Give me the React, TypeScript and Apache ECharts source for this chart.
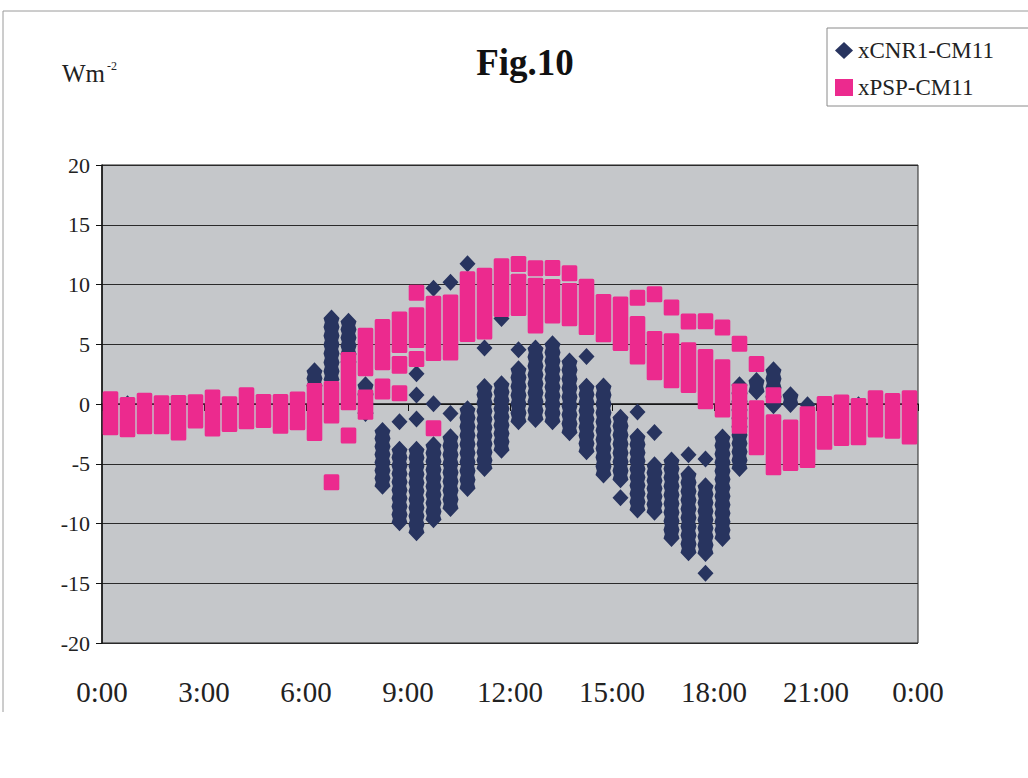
import React, { useEffect, useRef } from "react";
import * as echarts from "echarts";

// Half-hourly bins (hours of the day); each entry is [time, low value, high value] of a stack of markers
const CNR_NAME = "xCNR1-CM11";
const PSP_NAME = "xPSP-CM11";

const X_TICKS = [0, 3, 6, 9, 12, 15, 18, 21, 24];
const Y_TICKS = [-20, -15, -10, -5, 0, 5, 10, 15, 20];

const CNR_RANGES: [number, number, number][] = [
  [0.75, 0.02, 0.02],
  [6.25, 1.5, 2.78],
  [6.75, 2.0, 7.19],
  [7.25, 3.5, 6.92],
  [7.75, -0.79, 1.61],
  [8.25, -6.89, -2.22],
  [8.75, -1.49, -1.49],
  [8.75, -9.94, -3.79],
  [9.25, 2.54, 2.54],
  [9.25, 0.75, 0.75],
  [9.25, -1.26, -1.26],
  [9.25, -10.78, -3.79],
  [9.75, 9.68, 9.68],
  [9.75, 0.03, 0.03],
  [9.75, -9.69, -3.41],
  [10.25, 10.18, 10.18],
  [10.25, -0.8, -0.8],
  [10.25, -8.74, -2.74],
  [10.75, 11.73, 11.73],
  [10.75, -7.07, -0.4],
  [11.25, 4.69, 4.69],
  [11.25, -5.4, 1.46],
  [11.75, 7.15, 7.15],
  [11.75, -3.86, 1.69],
  [12.25, 4.55, 4.55],
  [12.25, -1.49, 2.95],
  [12.75, -1.3, 4.68],
  [13.25, -1.49, 5.04],
  [13.75, -2.41, 3.59],
  [14.25, 3.97, 3.97],
  [14.25, -4.0, 1.48],
  [14.75, -5.95, 1.5],
  [15.25, -6.34, -1.1],
  [15.25, -7.85, -7.85],
  [15.75, -0.67, -0.67],
  [15.75, -8.88, -2.7],
  [16.25, -2.39, -2.39],
  [16.25, -9.06, -5.09],
  [16.75, -11.26, -4.69],
  [17.25, -4.24, -4.24],
  [17.25, -12.45, -5.84],
  [17.75, -4.61, -4.61],
  [17.75, -12.51, -6.85],
  [17.75, -14.17, -14.17],
  [18.25, -11.26, -2.77],
  [18.75, -5.4, 1.61],
  [19.25, 1.02, 1.97],
  [19.75, -0.15, 2.86],
  [20.25, -0.04, 0.77],
  [20.75, -0.07, -0.07],
  [22.25, -0.07, -0.07],
];

const PSP_RANGES: [number, number, number][] = [
  [0.25, -1.95, 0.39],
  [0.75, -2.12, -0.08],
  [1.25, -1.87, 0.28],
  [1.75, -1.87, 0.06],
  [2.25, -2.39, 0.08],
  [2.75, -1.39, 0.14],
  [3.25, -2.06, 0.54],
  [3.75, -1.67, -0.03],
  [4.25, -1.45, 0.73],
  [4.75, -1.34, 0.17],
  [5.25, -1.81, 0.17],
  [5.75, -1.53, 0.37],
  [6.25, -2.43, 1.09],
  [6.75, -0.97, 1.26],
  [6.75, -6.55, -6.55],
  [7.25, 0.14, 3.68],
  [7.25, -2.64, -2.64],
  [7.75, 2.99, 5.71],
  [7.75, -0.64, 0.54],
  [8.25, 3.49, 6.44],
  [8.25, 1.04, 1.46],
  [8.75, 4.94, 7.07],
  [8.75, 3.21, 3.35],
  [8.75, 0.9, 0.9],
  [9.25, 9.3, 9.3],
  [9.25, 5.36, 7.42],
  [9.25, 3.77, 3.77],
  [9.75, 4.27, 8.38],
  [9.75, -2.03, -2.03],
  [10.25, 4.3, 8.49],
  [10.75, 5.86, 10.44],
  [11.25, 6.07, 10.74],
  [11.75, 7.95, 11.52],
  [12.25, 11.71, 11.71],
  [12.25, 8.03, 10.24],
  [12.75, 11.36, 11.36],
  [12.75, 6.56, 9.89],
  [13.25, 11.38, 11.38],
  [13.25, 7.4, 9.79],
  [13.75, 10.95, 10.95],
  [13.75, 7.17, 9.46],
  [14.25, 6.44, 9.82],
  [14.75, 5.83, 8.54],
  [15.25, 5.1, 8.32],
  [15.75, 8.89, 8.89],
  [15.75, 3.97, 6.69],
  [16.25, 9.18, 9.18],
  [16.25, 2.65, 5.44],
  [16.75, 8.08, 8.08],
  [16.75, 1.98, 5.25],
  [17.25, 6.9, 6.9],
  [17.25, 1.59, 4.49],
  [17.75, 6.92, 6.92],
  [17.75, 0.23, 3.93],
  [18.25, 6.4, 6.4],
  [18.25, -0.47, 3.07],
  [18.75, 5.05, 5.05],
  [18.75, -1.81, 1.04],
  [19.25, 3.34, 3.34],
  [19.25, -3.62, -0.36],
  [19.75, 0.73, 0.73],
  [19.75, -5.3, -1.53],
  [20.25, -4.94, -1.97],
  [20.75, -4.69, -0.86],
  [21.25, -3.15, 0.0],
  [21.75, -2.85, 0.12],
  [22.25, -2.79, -0.17],
  [22.75, -2.14, 0.48],
  [23.25, -2.23, 0.25],
  [23.75, -2.73, 0.48],
];

const NAVY = "#28345f";
const PINK = "#ec2a8e";
const SERIF = "'Liberation Serif', 'DejaVu Serif', serif";

export default function App() {
  const ref = useRef<HTMLDivElement>(null);

  useEffect(() => {
    if (!ref.current) return;
    const chart = echarts.init(ref.current, null, { renderer: "svg" });

    // a stack of overlapping diamond markers: pointed ends, slightly wavy sides
    const navyItem = (params: any, api: any) => {
      const t = api.value(0);
      const lo = api.value(1);
      const hi = api.value(2);
      const pT = api.coord([t, hi]);
      const pB = api.coord([t, lo]);
      const cx = pT[0];
      const hw = 8;
      const tip = 8.5;
      const yT = pT[1];
      const yB = pB[1];
      const right: number[][] = [];
      const left: number[][] = [];
      const span = yB - yT;
      const steps = Math.max(1, Math.round(span / 8.5));
      for (let i = 0; i <= steps; i++) {
        const y = yT + (span * i) / steps;
        right.push([cx + hw, y]);
        left.push([cx - hw, y]);
        if (i < steps) {
          const ym = yT + (span * (i + 0.5)) / steps;
          right.push([cx + hw - 1.3, ym]);
          left.push([cx - hw + 1.3, ym]);
        }
      }
      const points = [[cx, yT - tip], ...right, [cx, yB + tip], ...left.reverse()];
      return {
        type: "polygon",
        shape: { points },
        style: { fill: NAVY },
      };
    };

    const pinkItem = (params: any, api: any) => {
      const t = api.value(0);
      const lo = api.value(1);
      const hi = api.value(2);
      const pT = api.coord([t, hi]);
      const pB = api.coord([t, lo]);
      return {
        type: "rect",
        shape: {
          x: pT[0] - 7.8,
          y: pT[1] - 8,
          width: 15.6,
          height: pB[1] - pT[1] + 16,
          r: 1.5,
        },
        style: { fill: PINK },
      };
    };

    chart.setOption({
      animation: false,
      backgroundColor: "#ffffff",
      color: [NAVY, PINK],
      grid: {
        left: 102,
        right: 110,
        top: 165,
        bottom: 135,
        show: true,
        backgroundColor: "#c5c7ca",
        borderColor: "#222",
        borderWidth: 1,
      },
      legend: {
        left: 827,
        top: 28,
        orient: "vertical",
        padding: [11, 80, 7, 8],
        itemGap: 14,
        itemWidth: 18,
        itemHeight: 17,
        borderColor: "#8a8a8a",
        borderWidth: 1,
        backgroundColor: "#fff",
        selectedMode: false,
        textStyle: { fontFamily: SERIF, fontSize: 23, color: "#222", lineHeight: 22 },
        data: [
          { name: CNR_NAME, icon: "diamond" },
          { name: PSP_NAME, icon: "rect" },
        ],
      },
      xAxis: {
        type: "value",
        min: X_TICKS[0],
        max: X_TICKS[X_TICKS.length - 1],
        interval: 3,
        splitLine: { show: false },
        axisLine: { show: true, lineStyle: { color: "#111", width: 1.5 } },
        axisTick: { show: true, length: 7, lineStyle: { color: "#111" } },
        axisLabel: {
          margin: 34,
          fontFamily: SERIF,
          fontSize: 29,
          color: "#222",
          formatter: (v: number) => `${v % 24}:00`,
        },
      },
      yAxis: {
        type: "value",
        min: Y_TICKS[0],
        max: Y_TICKS[Y_TICKS.length - 1],
        interval: 5,
        splitLine: { show: true, lineStyle: { color: "#2a2a2a", width: 1 } },
        axisLine: { show: true, lineStyle: { color: "#111", width: 1.5 } },
        axisTick: { show: true, length: 6, lineStyle: { color: "#111" } },
        axisLabel: {
          margin: 12,
          fontFamily: SERIF,
          fontSize: 22,
          color: "#222",
        },
      },
      graphic: [
        {
          type: "line",
          shape: { x1: 3, y1: 11, x2: 1028, y2: 11 },
          style: { stroke: "#9a9a9a", lineWidth: 1 },
        },
        {
          type: "line",
          shape: { x1: 3, y1: 11, x2: 3, y2: 712 },
          style: { stroke: "#9a9a9a", lineWidth: 1 },
        },
        {
          type: "text",
          x: 525,
          y: 44,
          style: {
            text: "Fig.10",
            textAlign: "center",
            fontFamily: SERIF,
            fontSize: 37,
            fontWeight: "bold",
            fill: "#111",
          },
        },
        {
          type: "text",
          x: 62,
          y: 60,
          style: {
            text: "{a|Wm}{b|-2}",
            fill: "#222",
            rich: {
              a: { fontFamily: SERIF, fontSize: 25, fill: "#222" },
              b: { fontFamily: SERIF, fontSize: 12, fill: "#222", verticalAlign: "top", padding: [0, 0, 14, 2] },
            },
          },
        },
      ],
      series: [
        {
          name: CNR_NAME,
          type: "custom",
          renderItem: navyItem,
          itemStyle: { color: NAVY },
          encode: { x: 0, y: [1, 2] },
          data: CNR_RANGES,
          z: 2,
        },
        {
          name: PSP_NAME,
          type: "custom",
          renderItem: pinkItem,
          itemStyle: { color: PINK },
          encode: { x: 0, y: [1, 2] },
          data: PSP_RANGES,
          z: 3,
        },
      ],
    });

    return () => chart.dispose();
  }, []);

  return (
    <div
      ref={ref}
      style={{ position: "fixed", left: 0, top: 0, width: 1028, height: 778, background: "#fff" }}
    />
  );
}
